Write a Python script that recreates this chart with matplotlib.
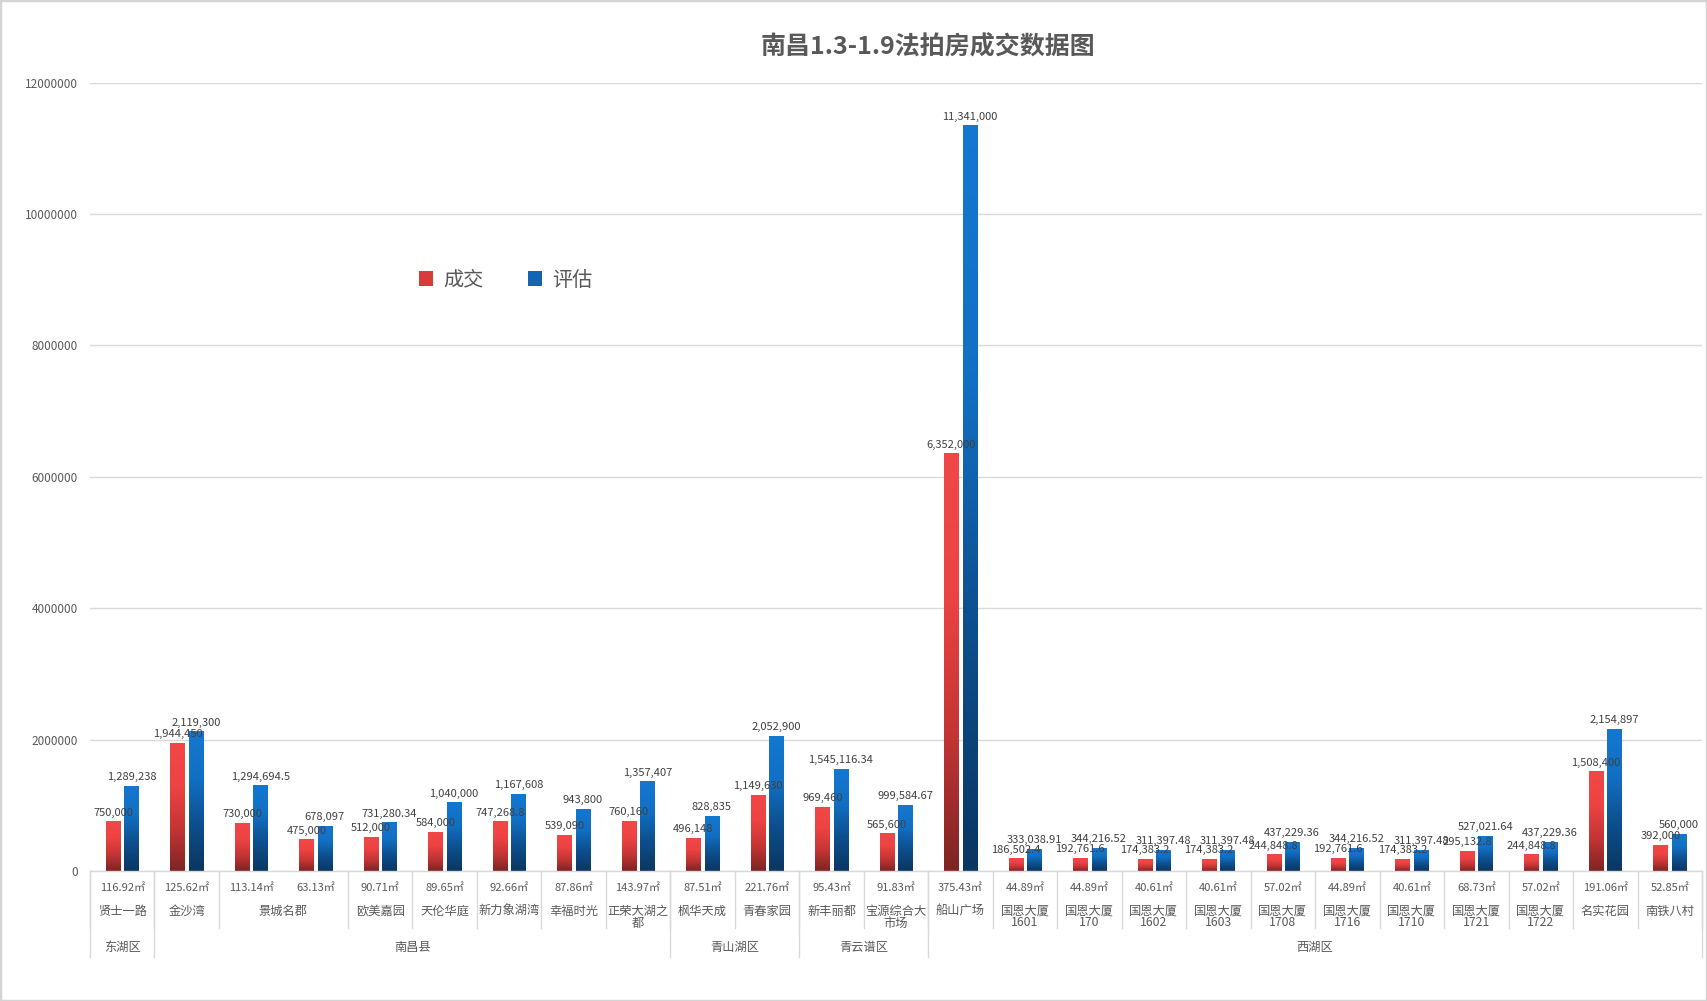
import numpy as np
import matplotlib
matplotlib.use('Agg')
import matplotlib.pyplot as plt
from matplotlib.colors import LinearSegmentedColormap
from matplotlib.patches import Rectangle, Patch
from matplotlib.lines import Line2D
from matplotlib.ticker import FuncFormatter

plt.rcParams['font.family'] = ['Noto Sans CJK SC', 'DejaVu Sans']

# ---------------- data ----------------
areas = ['116.92㎡', '125.62㎡', '113.14㎡', '63.13㎡', '90.71㎡', '89.65㎡', '92.66㎡',
         '87.86㎡', '143.97㎡', '87.51㎡', '221.76㎡', '95.43㎡', '91.83㎡', '375.43㎡',
         '44.89㎡', '44.89㎡', '40.61㎡', '40.61㎡', '57.02㎡', '44.89㎡', '40.61㎡',
         '68.73㎡', '57.02㎡', '191.06㎡', '52.85㎡']
names = ['贤士一路', '金沙湾', '景城名郡', '景城名郡', '欧美嘉园', '天伦华庭', '新力象湖湾',
         '幸福时光', '正荣大湖之都', '枫华天成', '青春家园', '新丰丽都', '宝源综合大市场',
         '船山广场', '国恩大厦 1601', '国恩大厦 170', '国恩大厦 1602', '国恩大厦 1603',
         '国恩大厦 1708', '国恩大厦 1716', '国恩大厦 1710', '国恩大厦 1721', '国恩大厦 1722',
         '名实花园', '南铁八村']
district_names = ['东湖区', '南昌县', '青山湖区', '青云谱区', '西湖区']
district_counts = [1, 8, 2, 2, 12]
deal = [750000, 1944450, 730000, 475000, 512000, 584000, 747268.8, 539090, 760160,
        496148, 1149630, 969460, 565600, 6352000, 186502.4, 192761.6, 174383.2,
        174383.2, 244848.8, 192761.6, 174383.2, 295132.8, 244848.8, 1508400, 392000]
appraise = [1289238, 2119300, 1294694.5, 678097, 731280.34, 1040000, 1167608, 943800,
            1357407, 828835, 2052900, 1545116.34, 999584.67, 11341000, 333038.91,
            344216.52, 311397.48, 311397.48, 437229.36, 344216.52, 311397.48,
            527021.64, 437229.36, 2154897, 560000]
series_names = ['成交', '评估']
title = '南昌1.3-1.9法拍房成交数据图'

# ---------------- figure ----------------
W, H = 1707, 1001
fig = plt.figure(figsize=(W / 100, H / 100), dpi=100)
ax_top_px, ax_bot_px, ax_l_px, ax_r_px = 82.7, 871, 90, 1702
ax = fig.add_axes([ax_l_px / W, (H - ax_bot_px) / H, (ax_r_px - ax_l_px) / W,
                   (ax_bot_px - ax_top_px) / H])

def yf(py):
    return (ax_bot_px - py) / (ax_bot_px - ax_top_px)

n = len(deal)
x = np.arange(n)
bw = 0.222
off = 0.143

red_cmap = LinearSegmentedColormap.from_list('r', ['#7E2424', '#C53535', '#EE4343', '#F24747'])
blue_cmap = LinearSegmentedColormap.from_list('b', ['#0A3661', '#0D4F8E', '#1270C4', '#1477D0'])
grad = np.linspace(0, 1, 256).reshape(-1, 1)

bars_r = ax.bar(x - off, deal, bw, color='none', zorder=2)
bars_b = ax.bar(x + off, appraise, bw, color='none', zorder=2)
for bars, cmap in ((bars_r, red_cmap), (bars_b, blue_cmap)):
    for p in bars:
        x0, w_, h_ = p.get_x(), p.get_width(), p.get_height()
        ax.imshow(grad, extent=[x0, x0 + w_, 0, h_], origin='lower', cmap=cmap,
                  aspect='auto', zorder=2, interpolation='bilinear')

def fmt(v):
    if float(v).is_integer():
        return f'{int(v):,}'
    return f'{v:,.2f}'.rstrip('0').rstrip('.')

for bars, vals in ((bars_r, deal), (bars_b, appraise)):
    for p, v in zip(bars, vals):
        ax.annotate(fmt(v), (p.get_x() + p.get_width() / 2, v), xytext=(0, 3),
                    textcoords='offset points', ha='center', va='bottom',
                    fontsize=8, color='#404040', zorder=5)

ax.set_xlim(-0.5, n - 0.5)
ax.set_ylim(0, 12e6)
ax.set_yticks(np.arange(0, 12e6 + 1, 2e6))
ax.yaxis.set_major_formatter(FuncFormatter(lambda v, p: f'{int(v)}'))
ax.tick_params(axis='y', length=0, pad=9, labelsize=8.5, labelcolor='#595959')
ax.set_xticks([])
ax.yaxis.grid(True, color='#D9D9D9', lw=1)
ax.set_axisbelow(True)
for s in ('left', 'right', 'top'):
    ax.spines[s].set_visible(False)
ax.spines['bottom'].set_color('#D9D9D9')
ax.spines['bottom'].set_linewidth(1)

trans = ax.get_xaxis_transform()
lc = '#D9D9D9'
tc = '#595959'

# area labels
for i, a in enumerate(areas):
    ax.text(i, yf(888), a, transform=trans, ha='center', va='center', fontsize=8,
            color=tc, clip_on=False)

# name labels (merged groups) and dividers
groups = []
start = 0
for i in range(1, n + 1):
    if i == n or names[i] != names[start]:
        groups.append((start, i - 1, names[start]))
        start = i
for s, e, nm in groups:
    xc = (s + e) / 2
    if ' ' in nm:
        lines = nm.split(' ')
    elif len(nm) > 5:
        lines = [nm[:5], nm[5:]]
    else:
        lines = [nm]
    for k, ln in enumerate(lines):
        ax.text(xc, yf(911 + 12 * k), ln, transform=trans, ha='center', va='center',
                fontsize=8.8, color=tc, clip_on=False)
    ax.add_line(Line2D([s - 0.5, s - 0.5], [0, yf(928)], transform=trans, color=lc,
                       lw=1, clip_on=False))
ax.add_line(Line2D([n - 0.5, n - 0.5], [0, yf(928)], transform=trans, color=lc,
                   lw=1, clip_on=False))

# district labels
pos = 0
for dn, c in zip(district_names, district_counts):
    ax.text(pos + (c - 1) / 2, yf(947), dn, transform=trans, ha='center', va='center',
            fontsize=8.8, color=tc, clip_on=False)
    ax.add_line(Line2D([pos - 0.5, pos - 0.5], [0, yf(957)], transform=trans, color=lc,
                       lw=1, clip_on=False))
    pos += c
ax.add_line(Line2D([pos - 0.5, pos - 0.5], [0, yf(957)], transform=trans, color=lc,
                   lw=1, clip_on=False))

# title
fig.text(928 / W, 1 - 47 / H, title, ha='center', va='center', fontsize=18,
         fontweight='bold', color='#595959')

# legend
handles = [Patch(facecolor='#D93B3B', edgecolor='none'),
           Patch(facecolor='#1165B3', edgecolor='none')]
fig.legend(handles, series_names, loc='center left', bbox_to_anchor=(401 / W, 1 - 280 / H),
           ncol=2, frameon=False, fontsize=14.5, labelcolor='#595959',
           handlelength=0.7, handleheight=0.7, handletextpad=0.5, columnspacing=2.2)

# outer frame
fig.patches.append(Rectangle((0, 0), 1, 1, transform=fig.transFigure, fill=False,
                             edgecolor='#D4D4D4', lw=2.5))

fig.savefig('out.png', dpi=100, facecolor='white')
